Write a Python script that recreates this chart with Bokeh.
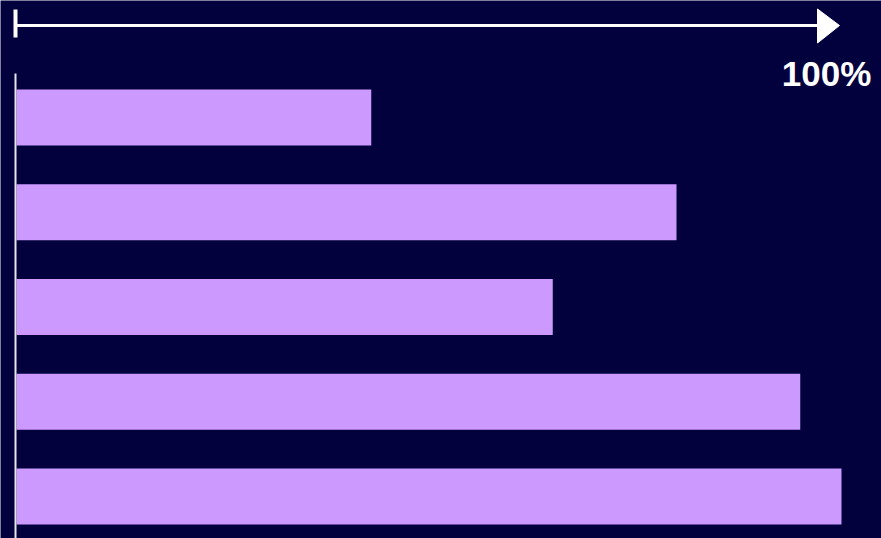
from bokeh.plotting import figure
from bokeh.models import Range1d, ColumnDataSource
from bokeh.core.properties import value
from bokeh.embed import file_html
from bokeh.resources import INLINE

# data
rows = [1, 2, 3, 4, 5]
values = [43, 80, 65, 95, 100]
scale_label = "100%"

BG = "#02003d"
BAR = "#cc99ff"

# pixel geometry helpers (frame fills the whole page)
PX_PER_X = 8.25
PX_PER_Y = 94.75
def dx(xpage):
    return (xpage - 16) / PX_PER_X
def dy(ypage):
    return (ypage - 117) / PX_PER_Y + 1

p = figure(width=881, height=538, output_backend="svg", toolbar_location=None,
           x_range=Range1d(dx(0), dx(881)), y_range=Range1d(dy(538), dy(0)),
           x_axis_location=None, y_axis_location=None, min_border=0,
           background_fill_color=BG, border_fill_color=BG, outline_line_color=None)
p.grid.visible = False

src = ColumnDataSource(dict(y=rows, v=values))
p.hbar(y="y", left=0, right="v", height=56 / PX_PER_Y, source=src,
       fill_color=BAR, line_color=None)

# vertical baseline
p.segment(x0=[dx(15)], y0=[dy(73)], x1=[dx(15)], y1=[dy(545)],
          line_color="#e6e6e6", line_width=2)

# top arrow
p.segment(x0=[dx(15)], y0=[dy(25)], x1=[dx(818)], y1=[dy(25)],
          line_color="white", line_width=3)
p.segment(x0=[dx(15)], y0=[dy(9)], x1=[dx(15)], y1=[dy(37)],
          line_color="white", line_width=4)
p.patch(x=[dx(817), dx(839), dx(817)], y=[dy(8.5), dy(25), dy(42.5)],
        fill_color="white", line_color="white", line_width=1)

p.text(x=[dx(826)], y=[dy(73)], text=[scale_label], text_color="white",
       text_font=value("Liberation Sans"), text_font_style="bold",
       text_font_size="35px", text_align="center", text_baseline="middle")

open("out.html", "w").write(file_html(p, INLINE))
